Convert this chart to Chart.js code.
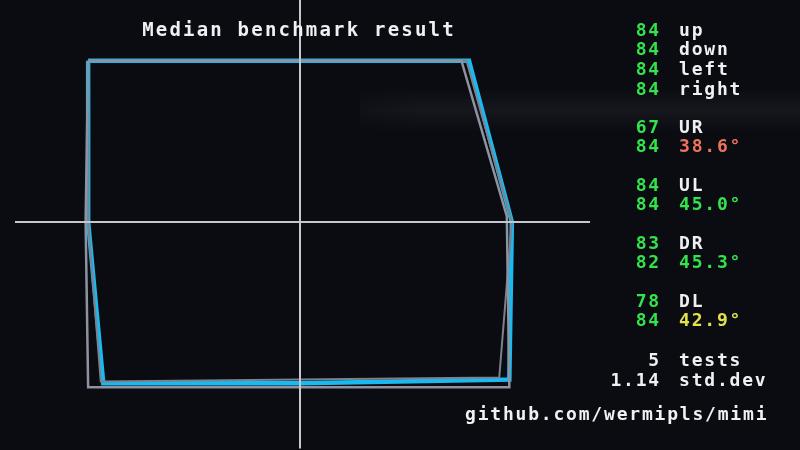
<!DOCTYPE html>
<html>
<head>
<meta charset="utf-8">
<script src="https://cdn.jsdelivr.net/npm/chart.js@4"></script>
<style>
  html, body { margin: 0; padding: 0; background: #0b0b12; }
  #wrap { width: 800px; height: 450px; }
</style>
</head>
<body>
<div id="wrap"><canvas id="canvas" width="800" height="450"></canvas></div>
<script>
// cardinal directions (median)
const dirNames = ['up', 'down', 'left', 'right']
const dirValues = [84, 84, 84, 84]

// diagonals: horizontal / vertical reach and angle
const diagNames = ['UR', 'UL', 'DR', 'DL']
const diagX = [67, 84, 83, 78]
const diagY = [84, 84, 82, 84]
const diagAngles = [38.6, 45.0, 45.3, 42.9]

const testCount = 5
const stdDev = 1.14

// individual test traces drawn behind the median
const testAX = [-84, 0, 64, 82, 83, 0, -84, -85, -84]
const testAY = [84, 84, 84, 3, -86, -86, -86, 0, 84]
const testBX = [-84, 0, 66, 84, 79, 0, -79, -84, -84]
const testBY = [84, 84, 84, 0, -81, -82, -83, 0, 84]

// median gate, built from the stats: UL, up, UR, right, DR, down, DL, left
const up = dirValues[0], down = dirValues[1], left = dirValues[2], right = dirValues[3]
const median = [
  { x: -diagX[1], y: diagY[1] },
  { x: 0, y: up },
  { x: diagX[0], y: diagY[0] },
  { x: right, y: 0 },
  { x: diagX[2], y: -diagY[2] },
  { x: 0, y: -down },
  { x: -diagX[3], y: -diagY[3] },
  { x: -left, y: 0 },
  { x: -diagX[1], y: diagY[1] },
]

const toPts = (xs, ys) => xs.map((x, i) => ({ x: x, y: ys[i] }))

const angleColor = (a) => {
  const d = Math.abs(a - 45)
  if (d < 1) return '#34e24c'
  if (d < 3) return '#e2e04c'
  return '#ec735e'
}

const bgPlugin = {
  id: 'bg',
  beforeDraw(chart) {
    const ctx = chart.ctx
    ctx.save()
    ctx.fillStyle = '#0b0b12'
    ctx.fillRect(0, 0, chart.width, chart.height)
    // faint reflection band seen in the photo
    const g = ctx.createLinearGradient(0, 88, 0, 132)
    g.addColorStop(0, 'rgba(200,200,210,0)')
    g.addColorStop(0.5, 'rgba(200,200,210,0.06)')
    g.addColorStop(1, 'rgba(200,200,210,0)')
    ctx.fillStyle = g
    ctx.fillRect(360, 88, 440, 44)
    const h = ctx.createLinearGradient(300, 0, 420, 0)
    h.addColorStop(0, 'rgba(11,11,18,1)')
    h.addColorStop(1, 'rgba(11,11,18,0)')
    ctx.fillStyle = h
    ctx.fillRect(300, 88, 120, 44)
    ctx.restore()
  },
}

const textPlugin = {
  id: 'texts',
  afterDraw(chart) {
    const ctx = chart.ctx
    ctx.save()
    ctx.textBaseline = 'middle'
    ctx.font = 'bold 19px "DejaVu Sans Mono", monospace'
    if ('letterSpacing' in ctx) ctx.letterSpacing = '2.2px'
    ctx.fillStyle = '#f0f0f2'
    ctx.textAlign = 'center'
    ctx.fillText('Median benchmark result', 299, 31)

    ctx.font = 'bold 18px "DejaVu Sans Mono", monospace'
    if ('letterSpacing' in ctx) ctx.letterSpacing = '1.8px'
    const numX = 661, labX = 679
    const row = (num, numColor, label, labColor, y) => {
      ctx.textAlign = 'right'
      ctx.fillStyle = numColor
      ctx.fillText(String(num), numX, y)
      ctx.textAlign = 'left'
      ctx.fillStyle = labColor
      ctx.fillText(label, labX, y)
    }
    const green = '#34e24c', white = '#f0f0f2'
    const dirRows = [31, 50, 70, 90]
    dirNames.forEach((n, i) => row(dirValues[i], green, n, white, dirRows[i]))

    const diagRows = [128, 186, 244, 302]
    diagNames.forEach((n, i) => {
      const y = diagRows[i]
      row(diagX[i], green, n, white, y)
      row(diagY[i], green, diagAngles[i].toFixed(1) + '°', angleColor(diagAngles[i]), y + 19.5)
    })

    row(testCount, white, 'tests', white, 361)
    row(stdDev.toFixed(2), white, 'std.dev', white, 381)

    ctx.textAlign = 'left'
    ctx.fillStyle = white
    ctx.fillText('github.com/wermipls/mimi', 465, 415)
    ctx.restore()
  },
}

const lineSet = (data, color, width) => ({
  data: data,
  borderColor: color,
  borderWidth: width,
  pointRadius: 0,
  showLine: true,
  fill: false,
  tension: 0,
  clip: false,
})

const canvas = document.getElementById('canvas')
const chart = new Chart(canvas, {
  type: 'scatter',
  data: {
    datasets: [
      lineSet([{ x: -113, y: 0 }, { x: 115, y: 0 }], '#c6c6cf', 2),
      lineSet([{ x: 0, y: 118 }, { x: 0, y: -118 }], '#c6c6cf', 2),
      lineSet(toPts(testAX, testAY), '#8e93a0', 2.5),
      lineSet(toPts(testBX, testBY), '#7d818c', 2),
      lineSet(median, '#19baf0', 4.5),
    ],
  },
  options: {
    responsive: false,
    animation: false,
    layout: { padding: { left: 15, right: 215, top: 0, bottom: 6 } },
    plugins: { legend: { display: false }, tooltip: { enabled: false } },
    scales: {
      x: { type: 'linear', min: -113, max: 113, display: false },
      y: { type: 'linear', min: -115.6, max: 115.6, display: false },
    },
  },
  plugins: [bgPlugin, textPlugin],
})
</script>
</body>
</html>
